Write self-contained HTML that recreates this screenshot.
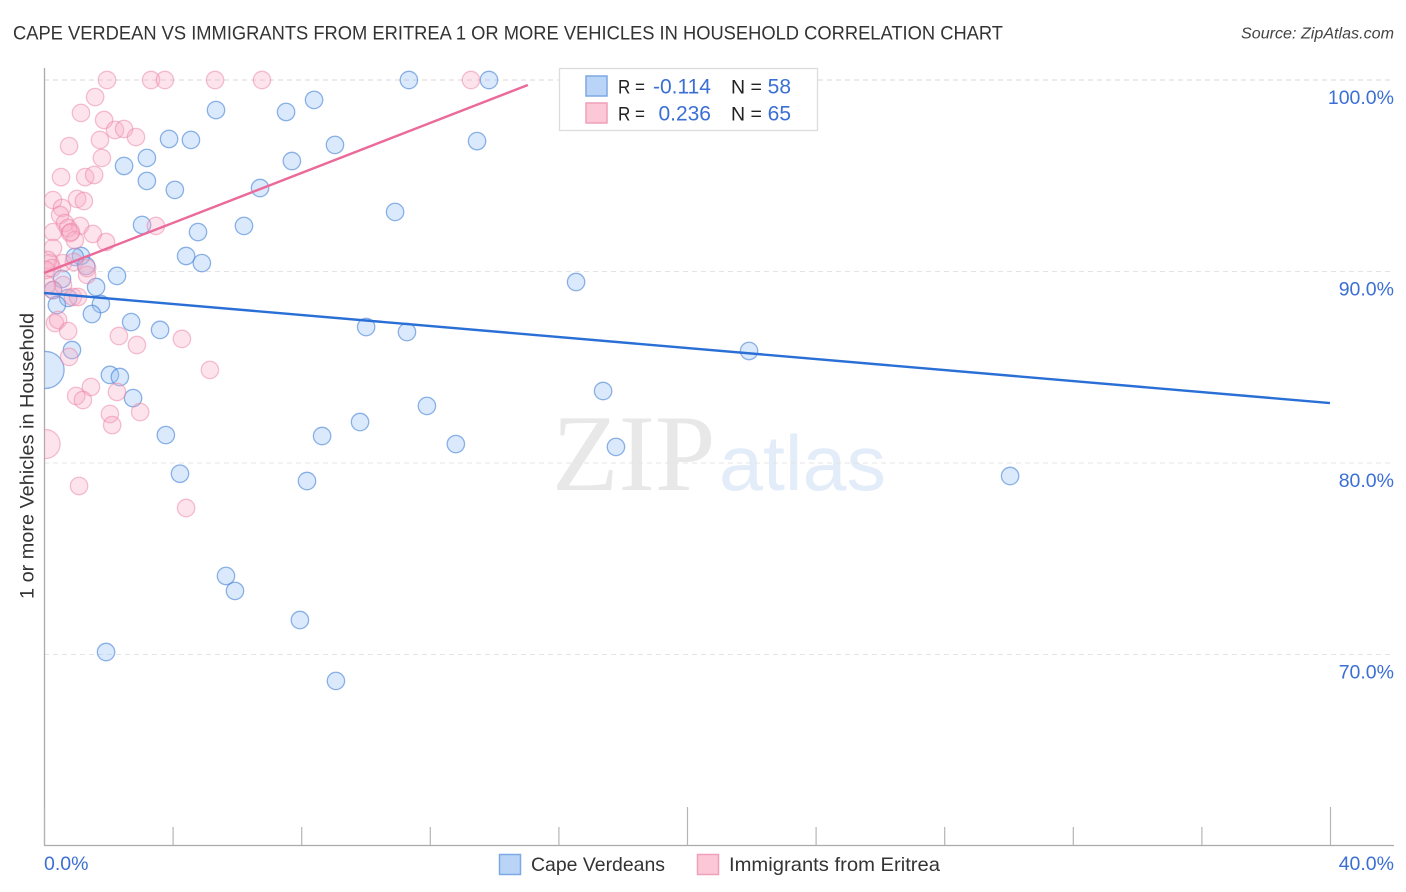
<!DOCTYPE html>
<html lang="en">
<head>
<meta charset="utf-8">
<title>Cape Verdean vs Immigrants from Eritrea Correlation Chart</title>
<style>
html,body{margin:0;padding:0;background:#fff;width:1406px;height:892px;overflow:hidden}
svg{display:block;font-family:"Liberation Sans",sans-serif}
</style>
</head>
<body>
<svg id="chart" width="1406" height="892" viewBox="0 0 1406 892" xmlns="http://www.w3.org/2000/svg">
  <defs>
    <clipPath id="plot-clip"><rect x="44.5" y="60" width="1350" height="785"></rect></clipPath>
  </defs>
  <text x="13" y="39.500" font-size="19.500" fill="#333" textLength="990" lengthAdjust="spacingAndGlyphs">CAPE VERDEAN VS IMMIGRANTS FROM ERITREA 1 OR MORE VEHICLES IN HOUSEHOLD CORRELATION CHART</text>
  <text x="1241" y="38.500" font-size="15.500" font-style="italic" fill="#444" textLength="153" lengthAdjust="spacingAndGlyphs">Source: ZipAtlas.com</text>
  <g>
    <text x="552" y="490" font-family="'Liberation Serif',serif" font-size="109" fill="#e8e8e8">ZIP</text>
    <text x="719" y="490" font-family="'Liberation Sans',sans-serif" font-size="78" fill="#e3ecf9" textLength="167" lengthAdjust="spacingAndGlyphs">atlas</text>
  </g>
  <g id="grid"></g>
  <g id="axes"></g>
  <g id="points" clip-path="url(#plot-clip)"></g>
  <g id="trends"></g>
  <text transform="translate(33.500,456) rotate(-90)" font-size="19" fill="#333" text-anchor="middle" textLength="286" lengthAdjust="spacingAndGlyphs">1 or more Vehicles in Household</text>
  <g>
    <rect x="559.500" y="68.500" width="258" height="62" fill="#fff" stroke="#dcdcdc" stroke-width="1.300"></rect>
    <rect x="586" y="76" width="21" height="20" fill="#b9d4f7" stroke="#7ea9e4" stroke-width="1.500"></rect>
    <rect x="586" y="103" width="21" height="20" fill="#fcc8d8" stroke="#f09fb9" stroke-width="1.500"></rect>
    <text x="618" y="93.500" font-size="19.500" fill="#222" textLength="27" lengthAdjust="spacingAndGlyphs">R =</text>
    <text x="711" y="93.500" font-size="21" fill="#3b6fd4" text-anchor="end">-0.114</text>
    <text x="731" y="93.500" font-size="19.500" fill="#222">N =</text>
    <text x="791" y="93.500" font-size="21" fill="#3b6fd4" text-anchor="end">58</text>
    <text x="618" y="120.500" font-size="19.500" fill="#222" textLength="27" lengthAdjust="spacingAndGlyphs">R =</text>
    <text x="711" y="120.500" font-size="21" fill="#3b6fd4" text-anchor="end">0.236</text>
    <text x="731" y="120.500" font-size="19.500" fill="#222">N =</text>
    <text x="791" y="120.500" font-size="21" fill="#3b6fd4" text-anchor="end">65</text>
  </g>
  <g>
    <rect x="499.500" y="854.500" width="21" height="20" fill="#b9d4f7" stroke="#7ea9e4" stroke-width="1.500"></rect>
    <text x="531" y="871" font-size="19.500" fill="#333" textLength="134" lengthAdjust="spacingAndGlyphs">Cape Verdeans</text>
    <rect x="697.500" y="854.500" width="21" height="20" fill="#fcc8d8" stroke="#f09fb9" stroke-width="1.500"></rect>
    <text x="729" y="871" font-size="19.500" fill="#333" textLength="211" lengthAdjust="spacingAndGlyphs">Immigrants from Eritrea</text>
  </g>
</svg>
<script>
const yTicks = [100, 90, 80, 70];
const yTickLabels = ["100.0%", "90.0%", "80.0%", "70.0%"];
const xTicks = [0, 4, 8, 12, 16, 20, 24, 28, 32, 36, 40];
const xMajorTicks = [0, 20, 40];
const xEndLabels = ["0.0%", "40.0%"];

const blueX = [11.35,13.84,5.35,7.53,8.40,3.89,4.57,9.05,13.47,2.49,3.20,7.71,3.20,4.07,6.72,10.92,3.05,6.22,4.79,4.42,4.91,1.15,0.96,1.31,2.27,16.55,1.62,0.56,0.28,0.75,0.40,1.77,1.49,2.71,3.61,10.02,11.29,0.87,21.93,0.05,2.05,2.36,2.77,17.39,11.91,9.83,3.79,8.65,12.81,17.79,4.23,8.18,30.05,5.66,5.94,7.96,1.93,9.08];
const blueY = [100,100,98.43,98.33,98.96,96.92,96.87,96.61,96.81,95.51,95.93,95.77,94.73,94.26,94.36,93.11,92.43,92.38,92.06,90.81,90.44,90.81,90.76,90.29,89.77,89.45,89.19,89.61,89.03,88.62,88.25,88.30,87.78,87.36,86.95,87.10,86.84,85.90,85.85,84.86,84.60,84.49,83.39,83.76,82.98,82.14,81.46,81.41,80.99,80.84,79.44,79.06,79.32,74.10,73.32,71.80,70.13,68.62];
const pinkX = [1.96,3.33,3.76,5.32,6.78,13.28,1.59,1.15,1.87,2.21,2.49,2.86,1.74,0.78,1.80,0.53,1.28,1.56,0.28,1.03,1.24,0.56,0.50,0.65,1.12,3.48,1.52,1.93,0.28,0.75,0.81,0.96,0.28,0.59,0.19,0.12,1.34,0.25,0.28,0.59,0.90,1.06,0.34,0.44,0.75,2.33,2.89,4.29,0.78,5.16,1.46,1.00,1.21,2.27,2.05,2.99,2.12,0.05,1.09,4.42,0.93,0.06,1.34,0.84,0.09];
const pinkY = [100,100,100,100,100,100,99.11,98.28,97.91,97.39,97.44,97.02,96.87,96.55,95.93,94.93,94.93,95.04,93.73,93.79,93.68,93.32,92.95,92.53,92.38,92.38,91.96,91.54,92.06,92.27,92.01,91.64,91.23,90.44,90.44,90.60,89.82,90.18,89.03,89.29,88.67,88.67,87.31,87.47,86.89,86.63,86.16,86.48,85.54,84.86,83.97,83.50,83.29,83.71,82.56,82.66,81.98,80.99,78.80,77.65,90.50,90.08,90.18,92.06,89.30];
const blueTrendX = [0, 40];
const blueTrendY = [88.88, 83.13];
const pinkTrendX = [0, 15.05];
const pinkTrendY = [89.92, 99.74];

const blueBigPoint = 39;
const pinkBigPoint = 57;

const NS = "http://www.w3.org/2000/svg";
function xScale(v) { return 44 + v * 32.15; }
function yScale(v) { return 80 + (100 - v) * 19.15; }
function make(tag, attrs, parent) {
  const el = document.createElementNS(NS, tag);
  for (const k in attrs) el.setAttribute(k, attrs[k]);
  parent.appendChild(el);
  return el;
}

const grid = document.getElementById("grid");
const axes = document.getElementById("axes");
const points = document.getElementById("points");
const trends = document.getElementById("trends");

yTicks.forEach(function (t, i) {
  const line = make("line", {x1: 44, x2: 1394, y1: yScale(t), y2: yScale(t), stroke: i === 0 ? "#d9d4d8" : "#e4e4e4", "stroke-width": 1, "stroke-dasharray": "5 4"}, grid);
  
  
  const label = make("text", {x: 1394, y: yScale(t) + 24, "font-size": 19.5, fill: "#3b6fd4", "text-anchor": "end"}, axes);
  label.textContent = yTickLabels[i];
  
  
});

const yAxis = make("line", {x1: 44.5, x2: 44.5, y1: 68, y2: 845, stroke: "#aaa", "stroke-width": 1.3}, axes);


const xAxis = make("line", {x1: 44, x2: 1394, y1: 845.5, y2: 845.5, stroke: "#aaa", "stroke-width": 1.3}, axes);



xTicks.forEach(function (t) {
  const major = xMajorTicks.indexOf(t) >= 0;
  const tick = make("line", {x1: xScale(t) + 0.5, x2: xScale(t) + 0.5, y1: major ? 807 : 827, y2: 845, stroke: "#b5b5b5", "stroke-width": 1.2}, axes);
  
  
});

const xStart = make("text", {x: 44, y: 870, "font-size": 19.5, fill: "#3b6fd4"}, axes);
xStart.textContent = xEndLabels[0];


const xEnd = make("text", {x: 1394, y: 870, "font-size": 19.5, fill: "#3b6fd4", "text-anchor": "end"}, axes);
xEnd.textContent = xEndLabels[1];



blueX.forEach(function (v, i) {
  const c = make("circle", {cx: xScale(v), cy: yScale(blueY[i]), r: i === blueBigPoint ? 18.5 : 8.7, fill: "rgba(147,190,244,0.34)", stroke: "rgba(70,130,215,0.6)", "stroke-width": 1.3}, points);
  
  
});
pinkX.forEach(function (v, i) {
  const c = make("circle", {cx: xScale(v), cy: yScale(pinkY[i]), r: i === pinkBigPoint ? 14.5 : 8.7, fill: "rgba(250,170,195,0.32)", stroke: "rgba(236,130,165,0.5)", "stroke-width": 1.3}, points);
  
  
});

const blueLine = make("line", {x1: xScale(blueTrendX[0]), y1: yScale(blueTrendY[0]), x2: xScale(blueTrendX[1]), y2: yScale(blueTrendY[1]), stroke: "#2a6fd6", "stroke-width": 2.4}, trends);


const pinkLine = make("line", {x1: xScale(pinkTrendX[0]), y1: yScale(pinkTrendY[0]), x2: xScale(pinkTrendX[1]), y2: yScale(pinkTrendY[1]), stroke: "#ea6a9a", "stroke-width": 2.4}, trends);


</script>
</body>
</html>
